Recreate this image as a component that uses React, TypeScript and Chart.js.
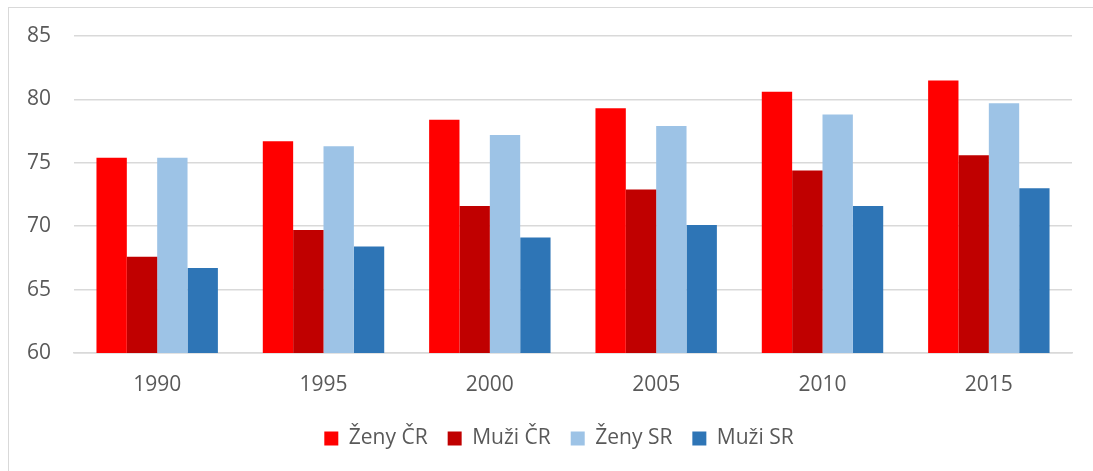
import React, { useEffect, useRef } from "react";
import { Chart, registerables } from "chart.js";

Chart.register(...registerables);

const categories = ["1990", "1995", "2000", "2005", "2010", "2015"];
const zenyCR = [75.4, 76.7, 78.4, 79.3, 80.6, 81.5];
const muziCR = [67.6, 69.7, 71.6, 72.9, 74.4, 75.6];
const zenySR = [75.4, 76.3, 77.2, 77.9, 78.8, 79.7];
const muziSR = [66.7, 68.4, 69.1, 70.1, 71.6, 73.0];
const seriesNames = ["Ženy ČR", "Muži ČR", "Ženy SR", "Muži SR"];
const seriesColors = ["#FF0000", "#C00000", "#9DC3E6", "#2E75B6"];

const legendShift = {
  id: "legendShift",
  afterLayout(chart: any) {
    const l = chart.legend;
    if (l) {
      l.left += 21;
      l.right += 21;
    }
  },
};

export default function App() {
  const ref = useRef<HTMLCanvasElement | null>(null);
  useEffect(() => {
    if (!ref.current) return;
    const values = [zenyCR, muziCR, zenySR, muziSR];
    const chart = new Chart(ref.current, {
      type: "bar",
      data: {
        labels: categories,
        datasets: values.map((v, i) => ({
          label: seriesNames[i],
          data: v,
          backgroundColor: seriesColors[i],
          borderWidth: 0,
          barPercentage: 1,
          categoryPercentage: 0.73,
        })),
      },
      options: {
        animation: false,
        responsive: false,
        maintainAspectRatio: false,
        layout: { padding: { left: 4, right: 21, top: 36, bottom: 12 } },
        scales: {
          x: {
            grid: { display: false },
            border: { display: true, color: "#d9d9d9", width: 1.5 },
            ticks: {
              color: "#595959",
              font: { family: "'Open Sans'", size: 21 },
              padding: 11,
            },
            afterFit: (scale: any) => {
              scale.height = 55;
            },
          },
          y: {
            min: 60,
            max: 85,
            grid: { color: "#d9d9d9", lineWidth: 1.5, drawTicks: false },
            border: { display: false },
            ticks: {
              stepSize: 5,
              color: "#595959",
              font: { family: "'Open Sans'", size: 21 },
              padding: 23,
            },
          },
        },
        plugins: {
          legend: {
            position: "bottom",
            labels: {
              color: "#595959",
              font: { family: "'Open Sans'", size: 21 },
              boxWidth: 14,
              boxHeight: 14,
              padding: 20,
            },
          },
          tooltip: { enabled: false },
        },
      },
      plugins: [legendShift],
    });
    return () => chart.destroy();
  }, []);
  return (
    <div style={{ position: "fixed", left: 0, top: 0, width: 1093, height: 471, background: "#fff", overflow: "hidden" }}>
      <div
        style={{
          position: "absolute",
          left: 8,
          top: 7,
          width: 1100,
          height: 480,
          border: "1px solid #d9d9d9",
        }}
      />
      <canvas ref={ref} width={1093} height={471} style={{ position: "absolute", left: 0, top: 0, width: 1093, height: 471 }} />
    </div>
  );
}
